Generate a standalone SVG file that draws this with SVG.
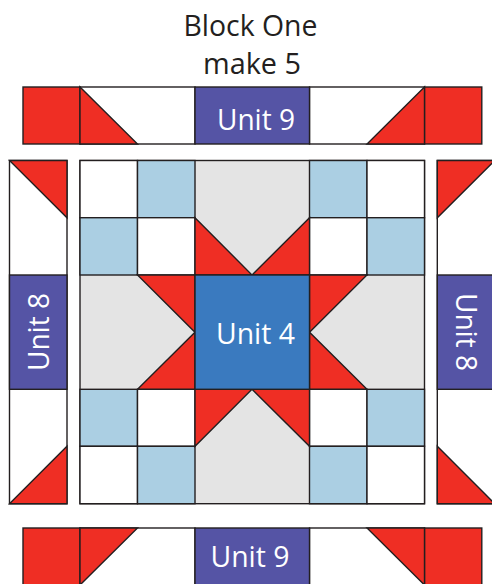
<svg xmlns="http://www.w3.org/2000/svg" width="492" height="584" viewBox="0 0 492 584">
<style>
.s{stroke:#231f20;stroke-width:1.4;stroke-linejoin:miter}
.r{fill:#ef2e24}.w{fill:#fff}.b{fill:#abcfe3}.g{fill:#e4e4e4}.u{fill:#5554a5}.c{fill:#3a7abf}
text{font-family:"Open Sans","Noto Sans","Liberation Sans",sans-serif;font-size:29px;text-anchor:middle}
.l{fill:#fff}.t{fill:#231f20}
</style>
<rect width="492" height="584" fill="#fff"/>
<g id="title">
<text class="t" x="250.5" y="36" textLength="134" lengthAdjust="spacingAndGlyphs">Block One</text>
<text class="t" x="252" y="74" textLength="98" lengthAdjust="spacingAndGlyphs">make 5</text>
</g>
<g id="top-strip">
<rect class="s w" x="80" y="87" width="115" height="57"/>
<rect class="s w" x="309.5" y="87" width="115" height="57"/>
<rect class="s r" x="23" y="87" width="57" height="57"/>
<rect class="s r" x="424.5" y="87" width="57.3" height="57"/>
<polygon class="s r" points="80,87 137.5,144 80,144"/>
<polygon class="s r" points="424.5,87 367,144 424.5,144"/>
<rect class="s u" x="195" y="87" width="114.5" height="57"/>
<text class="l" x="256" y="130" textLength="78" lengthAdjust="spacingAndGlyphs">Unit 9</text>
</g>
<g id="left-strip">
<rect class="s w" x="9.5" y="160.5" width="57.5" height="343.2"/>
<polygon class="s r" points="9.5,160.5 67,160.5 67,217.7"/>
<polygon class="s r" points="9.5,503.7 67,446.3 67,503.7"/>
<rect class="s u" x="9.5" y="275" width="57.5" height="114.3"/>
<text class="l" transform="translate(49,332) rotate(-90)" textLength="78" lengthAdjust="spacingAndGlyphs">Unit 8</text>
</g>
<g id="centre-block">
<rect class="s g" x="80" y="160.5" width="344.5" height="343.2"/>
<rect class="s w" x="80" y="160.5" width="57.5" height="57.2"/>
<rect class="s b" x="137.5" y="160.5" width="57.5" height="57.2"/>
<rect class="s b" x="80" y="217.7" width="57.5" height="57.3"/>
<rect class="s w" x="137.5" y="217.7" width="57.5" height="57.3"/>
<rect class="s b" x="309.5" y="160.5" width="57.5" height="57.2"/>
<rect class="s w" x="367" y="160.5" width="57.5" height="57.2"/>
<rect class="s w" x="309.5" y="217.7" width="57.5" height="57.3"/>
<rect class="s b" x="367" y="217.7" width="57.5" height="57.3"/>
<rect class="s b" x="80" y="389.3" width="57.5" height="57"/>
<rect class="s w" x="137.5" y="389.3" width="57.5" height="57"/>
<rect class="s w" x="80" y="446.3" width="57.5" height="57.4"/>
<rect class="s b" x="137.5" y="446.3" width="57.5" height="57.4"/>
<rect class="s w" x="309.5" y="389.3" width="57.5" height="57"/>
<rect class="s b" x="367" y="389.3" width="57.5" height="57"/>
<rect class="s b" x="309.5" y="446.3" width="57.5" height="57.4"/>
<rect class="s w" x="367" y="446.3" width="57.5" height="57.4"/>
<polygon class="s r" points="195,217.7 252,275 195,275"/>
<polygon class="s r" points="309.5,217.7 252,275 309.5,275"/>
<polygon class="s r" points="137.5,275 195,275 195,332.3"/>
<polygon class="s r" points="137.5,389.3 195,389.3 195,332.3"/>
<polygon class="s r" points="367,275 309.5,275 309.5,332.3"/>
<polygon class="s r" points="367,389.3 309.5,389.3 309.5,332.3"/>
<polygon class="s r" points="195,389.3 252,389.3 195,446.3"/>
<polygon class="s r" points="309.5,389.3 252,389.3 309.5,446.3"/>
<rect class="s c" x="195" y="275" width="114.5" height="114.3"/>
<text class="l" x="255.5" y="343.5" textLength="79" lengthAdjust="spacingAndGlyphs">Unit 4</text>
</g>
<g id="right-strip">
<rect class="s w" x="437.3" y="160.5" width="57.5" height="343.2"/>
<polygon class="s r" points="437.3,160.5 494.8,160.5 437.3,217.7"/>
<polygon class="s r" points="437.3,446.3 494.8,503.7 437.3,503.7"/>
<rect class="s u" x="437.3" y="275" width="57.5" height="114.3"/>
<text class="l" transform="translate(456,332) rotate(90)" textLength="78" lengthAdjust="spacingAndGlyphs">Unit 8</text>
</g>
<g id="bottom-strip">
<rect class="s w" x="80" y="528" width="115" height="58"/>
<rect class="s w" x="309.5" y="528" width="115" height="58"/>
<rect class="s r" x="23" y="528" width="57" height="58"/>
<rect class="s r" x="424.5" y="528" width="57.3" height="58"/>
<polygon class="s r" points="80,528 137.5,528 80,585"/>
<polygon class="s r" points="424.5,528 367,528 424.5,585"/>
<rect class="s u" x="195" y="528" width="114.5" height="58"/>
<text class="l" x="250" y="567" textLength="79" lengthAdjust="spacingAndGlyphs">Unit 9</text>
</g>
</svg>
